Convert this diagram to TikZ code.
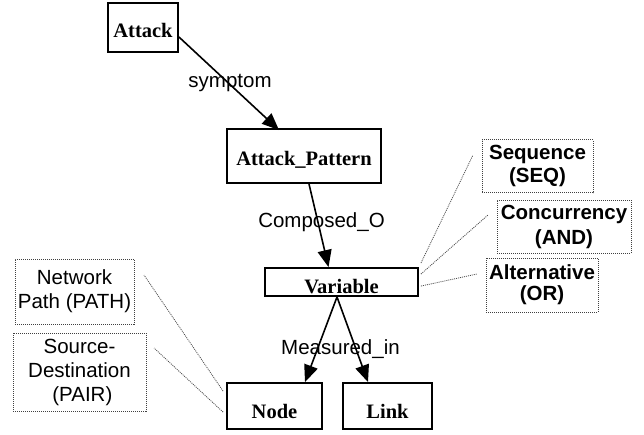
\documentclass[tikz,border=0pt]{standalone}
\usepackage{fontspec}
\setmainfont{Liberation Serif}
\setsansfont{Liberation Sans}
\usetikzlibrary{arrows.meta}
\begin{document}
\begin{tikzpicture}[x=1pt,y=-1pt,
  mainbox/.style={draw=black,line width=1.9pt,inner xsep=0pt,inner ysep=0pt,anchor=base,
    font=\fontsize{20.5}{24}\selectfont\bfseries},
  dotbox/.style={draw=black!75,line width=0.9pt,dash pattern=on 1pt off 1pt,inner sep=0pt,
    align=center,font=\sffamily\fontsize{20.5}{24}\selectfont},
  edgelabel/.style={anchor=base,inner sep=0pt,font=\sffamily\fontsize{20.5}{24}\selectfont},
  arr/.style={line width=1.6pt,-{Triangle[length=17pt,width=14pt]}},
  dotline/.style={draw=black!70,line width=0.8pt,dash pattern=on 1pt off 1pt}]
\useasboundingbox (0,0) rectangle (644,434);
% main boxes
\node[mainbox,minimum width=70pt,text height=34pt,text depth=15pt] (att) at (143,37) {Attack};
\node[mainbox,minimum width=154pt,text height=36pt,text depth=18pt] (ap) at (304,165) {Attack\_Pattern};
\node[mainbox,minimum width=153pt,text height=25pt,text depth=3pt] (var) at (341.5,293) {Variable};
\node[mainbox,minimum width=95pt,text height=35pt,text depth=11pt] (nd) at (274.5,418) {Node};
\node[mainbox,minimum width=89pt,text height=35pt,text depth=11pt] (lk) at (387.5,418) {Link};
% dotted boxes
\node[dotbox,font=\sffamily\bfseries\fontsize{20.5}{23}\selectfont,minimum width=111pt,minimum height=53pt] (seq) at (537.5,166) {Sequence\\(SEQ)};
\node[dotbox,font=\sffamily\bfseries\fontsize{20.5}{25}\selectfont,minimum width=134pt,minimum height=53pt] (con) at (564,226.5) {Concurrency\\(AND)};
\node[dotbox,font=\sffamily\bfseries\fontsize{20.5}{21}\selectfont,minimum width=112pt,minimum height=54pt] (alt) at (542,285) {Alternative\\(OR)};
\node[dotbox,minimum width=119pt,minimum height=65pt] (path) at (74.5,291.5) {Network\\Path (PATH)};
\node[dotbox,minimum width=133pt,minimum height=78pt] (pair) at (79.5,372) {Source-\\Destination\\\ (PAIR)};
% edge labels
\node[edgelabel] (l1) at (230,87) {symptom};
\node[edgelabel] (l2) at (321.5,227) {Composed\_O};
\node[edgelabel] (l3) at (340.5,354) {Measured\_in};
% arrows
\draw[arr] ([yshift=-9.5pt]att.east) -- ([xshift=-25pt,yshift=-2pt]ap.north);
\draw[arr] ([xshift=5pt]ap.south) -- ([xshift=-13pt]var.north);
\draw[arr] ([xshift=-4.5pt]var.south) -- ([xshift=30.5pt]nd.north);
\draw[arr] ([xshift=-4.5pt]var.south) -- ([xshift=-19.5pt]lk.north);
% dotted connectors
\coordinate (s1) at (473,155);
\coordinate (s2) at (488,215);
\coordinate (s3) at (477,274);
\coordinate (p1) at (144,275);
\coordinate (p2) at (154,348);
\draw[dotline] ([xshift=2pt,yshift=4pt]var.north east) -- (s1);
\draw[dotline] ([xshift=2pt,yshift=-7pt]var.north east) -- (s2);
\draw[dotline] ([xshift=2pt,yshift=-19pt]var.north east) -- (s3);
\draw[dotline] ([xshift=-3pt,yshift=-9pt]nd.north west) -- (p1);
\draw[dotline] ([xshift=-3pt,yshift=-30pt]nd.north west) -- (p2);
\end{tikzpicture}
\end{document}
